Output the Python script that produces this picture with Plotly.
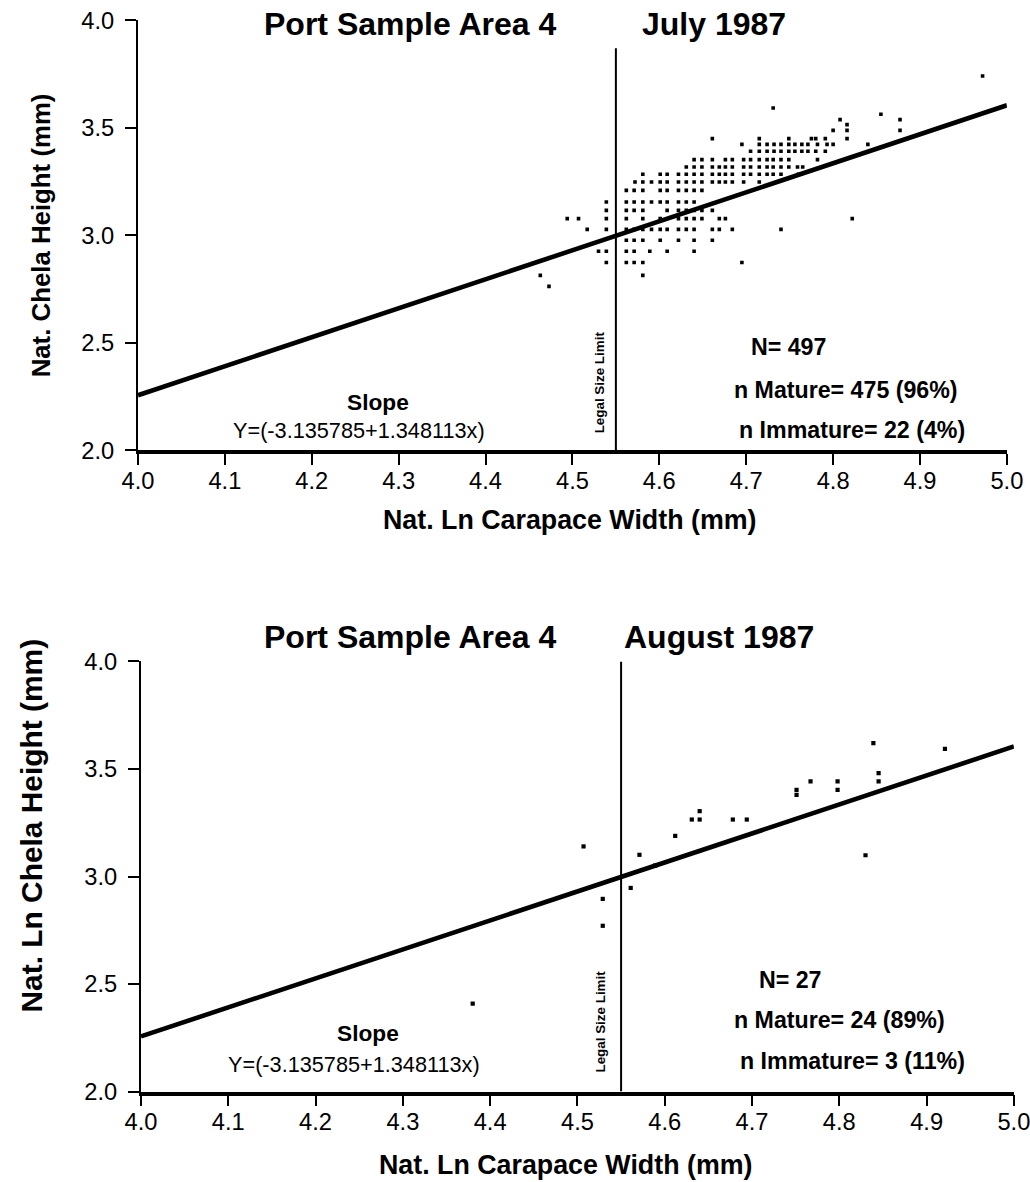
import plotly.graph_objects as go

FONT = "Liberation Sans, Arial, Helvetica, sans-serif"

# Figure size and the design grid used for placing panels and labels
FIG_W, FIG_H = 1046, 1196
GRID_SX, GRID_OX = 0.9695, 15.0
GRID_SY, GRID_OY = 0.978, 12.7

# Regression of ln chela height on ln carapace width
REG_INTERCEPT = -3.135785
REG_SLOPE = 1.348113
LEGAL_LIMIT = 4.55

x_tick_vals = [4.0, 4.1, 4.2, 4.3, 4.4, 4.5, 4.6, 4.7, 4.8, 4.9, 5.0]
x_tick_text = ["4.0", "4.1", "4.2", "4.3", "4.4", "4.5", "4.6", "4.7", "4.8", "4.9", "5.0"]
y_tick_vals = [2.0, 2.5, 3.0, 3.5, 4.0]
y_tick_text = ["2.0", "2.5", "3.0", "3.5", "4.0"]

# July 1987: ln chela height rows, each with the ln carapace widths observed
july_row_y = [3.741, 3.592, 3.563, 3.538, 3.515, 3.488, 3.450, 3.423, 3.391, 3.352,
              3.318, 3.284, 3.248, 3.209, 3.155, 3.116, 3.078, 3.028, 2.977, 2.926,
              2.874, 2.814, 2.763]
july_row_x = [
    [4.972],
    [4.731],
    [4.855],
    [4.808, 4.877],
    [4.816],
    [4.800, 4.816, 4.877],
    [4.661, 4.715, 4.749, 4.775, 4.780, 4.791, 4.816],
    [4.695, 4.715, 4.724, 4.732, 4.740, 4.749, 4.756, 4.764, 4.771, 4.782, 4.793, 4.800, 4.840],
    [4.705, 4.715, 4.724, 4.732, 4.740, 4.749, 4.756, 4.764, 4.771, 4.780, 4.791],
    [4.640, 4.649, 4.661, 4.676, 4.684, 4.697, 4.705, 4.715, 4.724, 4.731, 4.740, 4.749, 4.782],
    [4.631, 4.640, 4.649, 4.661, 4.669, 4.676, 4.684, 4.697, 4.705, 4.715, 4.724, 4.731,
     4.740, 4.749, 4.759, 4.765],
    [4.581, 4.601, 4.609, 4.622, 4.631, 4.640, 4.649, 4.661, 4.669, 4.676, 4.684, 4.697,
     4.705, 4.715, 4.724, 4.731, 4.740, 4.760],
    [4.572, 4.581, 4.591, 4.601, 4.609, 4.622, 4.631, 4.640, 4.649, 4.661, 4.669, 4.676,
     4.684, 4.697, 4.715],
    [4.562, 4.571, 4.581, 4.601, 4.609, 4.622, 4.631, 4.640, 4.649],
    [4.539, 4.562, 4.571, 4.581, 4.591, 4.601, 4.609, 4.622, 4.631, 4.640],
    [4.539, 4.562, 4.571, 4.581, 4.609, 4.622, 4.631, 4.640, 4.649, 4.661],
    [4.494, 4.507, 4.539, 4.562, 4.581, 4.601, 4.622, 4.631, 4.640, 4.649, 4.669, 4.676, 4.822],
    [4.517, 4.539, 4.562, 4.571, 4.581, 4.591, 4.601, 4.609, 4.622, 4.631, 4.640, 4.661,
     4.669, 4.684, 4.740],
    [4.562, 4.571, 4.581, 4.601, 4.622, 4.640, 4.661],
    [4.530, 4.539, 4.562, 4.571, 4.589, 4.609, 4.640],
    [4.539, 4.562, 4.571, 4.581, 4.695],
    [4.463, 4.581],
    [4.473],
]

# August 1987 individual crabs
aug_x = [4.380, 4.507, 4.529, 4.529, 4.561, 4.571, 4.589, 4.612, 4.631, 4.640, 4.640, 4.678,
         4.694, 4.751, 4.751, 4.767, 4.798, 4.798, 4.830, 4.839, 4.845, 4.845, 4.921]
aug_y = [2.409, 3.140, 2.896, 2.771, 2.947, 3.101, 3.051, 3.189, 3.265, 3.265, 3.304, 3.265,
         3.265, 3.403, 3.380, 3.442, 3.442, 3.403, 3.099, 3.620, 3.481, 3.442, 3.594]

july_x, july_y = [], []
for yv, xs in zip(july_row_y, july_row_x):
    for xv in xs:
        july_x.append(xv)
        july_y.append(yv)

fit_x = [4.0, 5.0]
fit_y = [REG_INTERCEPT + REG_SLOPE * v for v in fit_x]


def pxx(p):
    """Design-grid x (px from left) to paper fraction."""
    return ((p - GRID_OX) / GRID_SX) / FIG_W


def pxy(p):
    """Design-grid y (px from top) to paper fraction."""
    return 1 - ((p - GRID_OY) / GRID_SY) / FIG_H


def fs(size):
    """Font size on the design grid."""
    return round(size / GRID_SX, 1)


fig = go.Figure()

fig.add_trace(go.Scatter(x=july_x, y=july_y, mode="markers",
                         marker=dict(symbol="square", size=3.6, color="black", line=dict(width=0)),
                         xaxis="x", yaxis="y", showlegend=False))
fig.add_trace(go.Scatter(x=fit_x, y=fit_y, mode="lines", line=dict(color="black", width=4.6),
                         xaxis="x", yaxis="y", showlegend=False))
fig.add_trace(go.Scatter(x=aug_x, y=aug_y, mode="markers",
                         marker=dict(symbol="square", size=4.2, color="black", line=dict(width=0)),
                         xaxis="x2", yaxis="y2", showlegend=False))
fig.add_trace(go.Scatter(x=fit_x, y=fit_y, mode="lines", line=dict(color="black", width=4.6),
                         xaxis="x2", yaxis="y2", showlegend=False))


def xaxis_cfg(domain, anchor):
    return dict(domain=domain, anchor=anchor, range=[4.0, 5.0], tickvals=x_tick_vals,
                ticktext=x_tick_text, ticks="outside", ticklen=11, tickwidth=2,
                tickcolor="black", showline=True, linewidth=3.6, linecolor="black",
                showgrid=False, zeroline=False, fixedrange=True, ticklabelstandoff=-5,
                tickfont=dict(family=FONT, size=fs(23), color="black"))


def yaxis_cfg(domain, anchor):
    return dict(domain=domain, anchor=anchor, range=[2.0, 4.0], tickvals=y_tick_vals,
                ticktext=y_tick_text, ticks="outside", ticklen=11, tickwidth=2,
                tickcolor="black", showline=True, linewidth=2, linecolor="black",
                showgrid=False, zeroline=False, fixedrange=True, ticklabelstandoff=6,
                tickfont=dict(family=FONT, size=fs(23), color="black"))


fig.update_layout(
    width=FIG_W, height=FIG_H,
    margin=dict(l=0, r=0, t=0, b=0),
    paper_bgcolor="white", plot_bgcolor="white",
    font=dict(family=FONT, color="black"),
    xaxis=xaxis_cfg([pxx(137), pxx(1006)], "y"),
    yaxis=yaxis_cfg([pxy(450), pxy(20)], "x"),
    xaxis2=xaxis_cfg([pxx(140), pxx(1013)], "y2"),
    yaxis2=yaxis_cfg([pxy(1091), pxy(661)], "x2"),
)

# legal size limit markers
fig.add_shape(type="line", xref="x", yref="y", x0=LEGAL_LIMIT, x1=LEGAL_LIMIT, y0=2.0, y1=3.87,
              line=dict(color="black", width=2))
fig.add_shape(type="line", xref="x2", yref="y2", x0=LEGAL_LIMIT, x1=LEGAL_LIMIT, y0=2.0, y1=4.0,
              line=dict(color="black", width=2))


def note(text, x, y, size, bold=False, anchor="center", angle=0):
    t = f"<b>{text}</b>" if bold else text
    fig.add_annotation(text=t, x=pxx(x), y=pxy(y), xref="paper", yref="paper",
                       xanchor=anchor, yanchor="middle", showarrow=False, textangle=angle,
                       font=dict(family=FONT, size=fs(size), color="black"))


# July panel
note("Port Sample Area 4", 261, 24, 31, bold=True, anchor="left")
note("July 1987", 787, 24, 31, bold=True, anchor="right")
note("Nat. Ln Carapace Width (mm)", 569, 520, 26, bold=True)
note("Nat. Chela Height (mm)", 40, 235, 25, bold=True, angle=-90)
note("Slope", 377, 402, 22, bold=True)
note("Y=(-3.135785+1.348113x)", 358, 430, 21)
note("Legal Size Limit", 598, 382, 13, bold=True, angle=-90)
note("N= 497", 788, 347, 22.5, bold=True)
note("n Mature= 475 (96%)", 845, 390, 22.5, bold=True)
note("n Immature= 22 (4%)", 851, 430, 22.5, bold=True)

# August panel
note("Port Sample Area 4", 261, 637, 31, bold=True, anchor="left")
note("August 1987", 815, 637, 31, bold=True, anchor="right")
note("Nat. Ln Carapace Width (mm)", 565, 1164, 26, bold=True)
note("Nat. Ln Chela Height (mm)", 31, 825, 29, bold=True, angle=-90)
note("Slope", 367, 1032, 22, bold=True)
note("Y=(-3.135785+1.348113x)", 353, 1064, 21)
note("Legal Size Limit", 600, 1021, 13, bold=True, angle=-90)
note("N= 27", 790, 979, 22.5, bold=True)
note("n Mature= 24 (89%)", 839, 1019, 22.5, bold=True)
note("n Immature= 3 (11%)", 852, 1060, 22.5, bold=True)

fig.write_html("out.html")
